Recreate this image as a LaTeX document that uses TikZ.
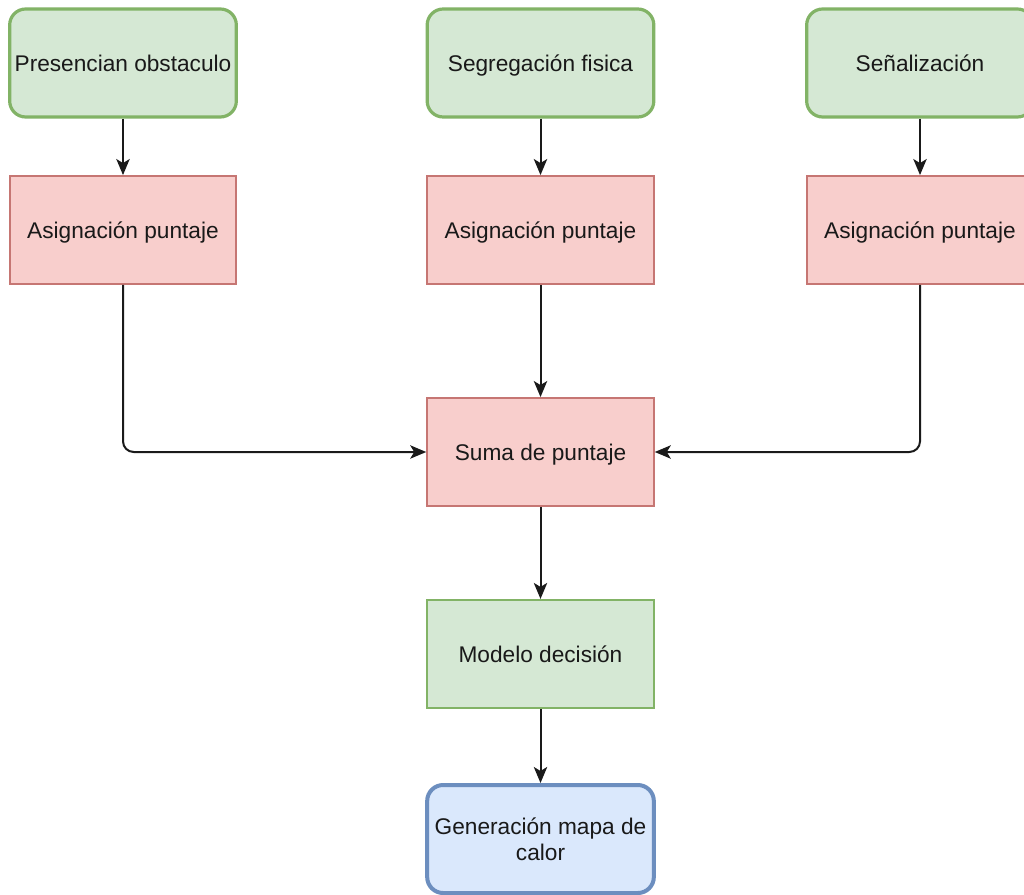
\documentclass[tikz,border=0pt]{standalone}
\usepackage{fontspec}
\setmainfont{Liberation Sans}
\usepackage{tikz}
\usetikzlibrary{arrows.meta}

\definecolor{gfill}{HTML}{D5E8D4}
\definecolor{gline}{HTML}{82B366}
\definecolor{rfill}{HTML}{F8CECC}
\definecolor{rline}{HTML}{B85450}
\definecolor{bfill}{HTML}{DAE8FC}
\definecolor{bline}{HTML}{6C8EBF}
\definecolor{eline}{HTML}{1A1A1A}

\begin{document}
\begin{tikzpicture}[
					x=0.75pt,y=-0.75pt,
					box/.style={rectangle,minimum width=170pt,minimum height=81pt,inner sep=2pt,align=center,font=\fontsize{17}{19.5}\selectfont,text=black!90},
					line1/.style={text height=12.4pt,text depth=0pt},
					gnode/.style={box,line1,draw=gline,fill=gfill,line width=1.6pt},
					gsoft/.style={gnode,rounded corners=12pt,line width=2.4pt},
					rnode/.style={box,line1,draw=rline!80,fill=rfill,line width=1.4pt},
					bnode/.style={box,draw=bline,fill=bfill,rounded corners=12pt,line width=3pt},
					fedge/.style={draw=eline,line width=1.5pt,rounded corners=8pt,-{Stealth[length=12pt,width=10pt,inset=3pt]}}
					]
					\clip (0,0) rectangle (1024,895);
					\fill[white] (0,0) rectangle (1024,895);
					\foreach \q/\x/\t in {1/123/Presencian obstaculo,2/540.5/Segregación fisica,3/920/Señalización}{
						\node[gsoft] (in\q) at (\x,63) {\t};
						\node[rnode] (pt\q) at (\x,230) {Asignación puntaje};
						\draw[fedge] (in\q) -- (pt\q);
					}
					\node[rnode] (sum) at (540.5,452) {Suma de puntaje};
					\node[gnode] (dec) at (540.5,654) {Modelo decisión};
					\node[bnode] (map) at (540.5,839) {Generación mapa de\\calor};
					\draw[fedge] (pt1) |- (sum);
					\draw[fedge] (pt2) -- (sum);
					\draw[fedge] (pt3) |- (sum);
					\draw[fedge] (sum) -- (dec);
					\draw[fedge] (dec) -- (map);
				\end{tikzpicture}
\end{document}
